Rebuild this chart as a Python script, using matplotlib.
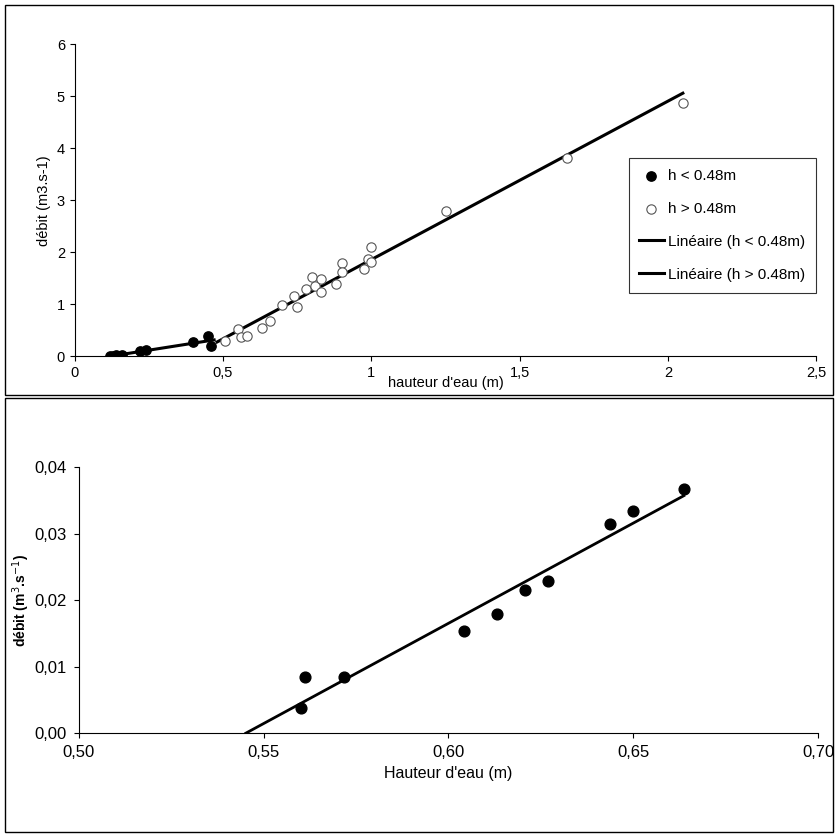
import numpy as np
import matplotlib
matplotlib.use("Agg")
import matplotlib.pyplot as plt
from matplotlib.patches import Rectangle
from matplotlib.ticker import FuncFormatter

plt.rcParams['font.family'] = ['Liberation Sans', 'DejaVu Sans']

# Top panel data
h_low = [0.12, 0.13, 0.14, 0.15, 0.16, 0.22, 0.24, 0.40, 0.45, 0.46]
q_low = [0.00, 0.01, 0.03, 0.00, 0.02, 0.09, 0.12, 0.27, 0.38, 0.20]
h_high = [0.506, 0.55, 0.56, 0.58, 0.63, 0.66, 0.70, 0.74, 0.75, 0.78, 0.80, 0.81,
          0.83, 0.83, 0.88, 0.90, 0.90, 0.975, 0.99, 1.00, 1.00, 1.25, 1.66, 2.05]
q_high = [0.29, 0.52, 0.37, 0.38, 0.54, 0.67, 0.98, 1.15, 0.94, 1.30, 1.52, 1.35,
          1.48, 1.23, 1.38, 1.79, 1.62, 1.67, 1.86, 1.81, 2.10, 2.80, 3.82, 4.88]
# Bottom panel data
h2 = [0.5602, 0.5612, 0.5717, 0.6041, 0.6132, 0.6207, 0.627, 0.6438, 0.6499, 0.6637]
q2 = [0.0038, 0.0084, 0.0084, 0.0154, 0.0179, 0.0216, 0.0229, 0.0314, 0.0335, 0.0368]

fig = plt.figure(figsize=(8.39, 8.36), dpi=100)
fig.patches.append(Rectangle((5/839, 1-395/836), 828/839, 390/836, transform=fig.transFigure,
                             fill=False, ec='black', lw=1))
fig.patches.append(Rectangle((5/839, 1-832/836), 828/839, 434/836, transform=fig.transFigure,
                             fill=False, ec='black', lw=1))

ax = fig.add_axes([0.089, 0.574, 0.884, 0.373])
ax.scatter(h_low, q_low, s=45, c='black', zorder=3, label='h < 0.48m')
ax.scatter(h_high, q_high, s=45, facecolors='white', edgecolors='#555555', linewidths=0.8,
           zorder=3, label='h > 0.48m')
p1 = np.polyfit(h_low, q_low, 1)
x1 = np.array([min(h_low), 0.47])
ax.plot(x1, np.polyval(p1, x1), color='black', lw=2.2, label='Linéaire (h < 0.48m)')
p2 = np.polyfit(h_high, q_high, 1)
x2 = np.array([0.48, max(h_high)])
ax.plot(x2, np.polyval(p2, x2), color='black', lw=2.2, label='Linéaire (h > 0.48m)')
ax.set_xlim(0, 2.5)
ax.set_ylim(0, 6)
ax.set_xticks([0, 0.5, 1, 1.5, 2, 2.5])
ax.set_yticks(range(7))
fmt = FuncFormatter(lambda v, p: ('%g' % v).replace('.', ','))
ax.xaxis.set_major_formatter(fmt)
for s in ['top', 'right']:
    ax.spines[s].set_visible(False)
ax.tick_params(direction='out', labelsize=10.5)
ax.set_xlabel("hauteur d'eau (m)", fontsize=10.5, labelpad=-3)
ax.set_ylabel("débit (m3.s-1)", fontsize=10.5)
leg = ax.legend(loc='center right', bbox_to_anchor=(1.01, 0.42), fontsize=11, frameon=True,
                fancybox=False, edgecolor='black', labelspacing=1.25, handlelength=1.6,
                handletextpad=0.3, borderpad=0.7)
leg.get_frame().set_linewidth(0.8)

ax2 = fig.add_axes([0.094, 0.123, 0.881, 0.318])
ax2.scatter(h2, q2, s=60, c='black', zorder=3)
p3 = np.polyfit(h2, q2, 1)
x3 = np.array([-p3[1]/p3[0], max(h2)])
ax2.plot(x3, np.polyval(p3, x3), color='black', lw=2)
ax2.set_xlim(0.5, 0.7)
ax2.set_ylim(0, 0.04)
ax2.set_xticks([0.5, 0.55, 0.6, 0.65, 0.7])
ax2.set_yticks([0, 0.01, 0.02, 0.03, 0.04])
ax2.xaxis.set_major_formatter(FuncFormatter(lambda v, p: ('%.2f' % v).replace('.', ',')))
ax2.yaxis.set_major_formatter(FuncFormatter(lambda v, p: ('%.2f' % v).replace('.', ',')))
for s in ['top', 'right']:
    ax2.spines[s].set_visible(False)
ax2.tick_params(direction='out', labelsize=12, pad=5)
ax2.set_xlabel("Hauteur d'eau (m)", fontsize=11.5, labelpad=4)
ax2.set_ylabel("débit (m$^3$.s$^{-1}$)", fontsize=10, fontweight='bold', labelpad=2)

fig.savefig('out.png', dpi=100)
